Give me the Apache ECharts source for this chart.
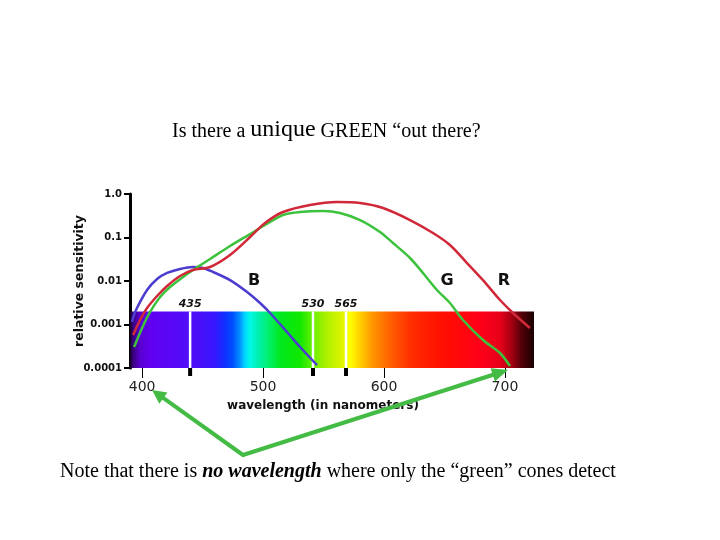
<!DOCTYPE html>
<html><head><meta charset="utf-8">
<script src="https://cdn.jsdelivr.net/npm/echarts@6/dist/echarts.min.js"></script>
<style>html,body{margin:0;padding:0;background:#fff}#c{width:720px;height:540px}</style>
</head><body><div id="c"></div>
<script>
// ---- data ----
const blueWl  = [391.7, 394.2, 404.1, 412.4, 420.7, 431.4, 442.1, 450.4, 458.7, 472.7, 486.8, 497.5, 505.8, 519.8, 530.6, 544.6];
const blueVal = [0.00114, 0.00194, 0.00621, 0.0111, 0.0153, 0.0189, 0.0210, 0.0199, 0.0161, 0.0105, 0.00558, 0.00312, 0.00184, 0.000673, 0.000304, 0.000117];

const greenWl  = [393.4, 400.0, 406.6, 414.9, 423.1, 433.9, 442.1, 456.2, 472.7, 489.3, 505.8, 516.5, 530.6, 549.6, 563.6, 580.2, 596.7, 607.4, 621.5, 632.2, 643.8, 654.5, 665.3, 681.8, 695.9, 704.1];
const greenVal = [0.000304, 0.000832, 0.00194, 0.00429, 0.00728, 0.0124, 0.0179, 0.0321, 0.0638, 0.120, 0.227, 0.329, 0.385, 0.406, 0.366, 0.252, 0.134, 0.0748, 0.0338, 0.0153, 0.00621, 0.00312, 0.00127, 0.000441, 0.000221, 0.000111];

const redWl  = [392.6, 398.3, 404.1, 412.4, 420.7, 431.4, 442.1, 456.2, 472.7, 489.3, 501.6, 516.5, 538.8, 561.1, 580.2, 599.2, 621.5, 640.5, 654.5, 668.6, 681.8, 695.9, 706.6, 720.6];
const redVal = [0.000574, 0.00127, 0.00239, 0.00452, 0.00767, 0.0130, 0.0179, 0.0210, 0.0396, 0.1026, 0.215, 0.385, 0.558, 0.655, 0.621, 0.476, 0.252, 0.127, 0.0673, 0.0259, 0.0105, 0.00366, 0.00184, 0.000832];

const xTicks = [400, 500, 600, 700];
const yTickLabels = ['0.0001', '0.001', '0.01', '0.1', '1.0'];
const markerPos = [439.7, 541.3, 568.6];
const markerLabels = ['435', '530', '565'];
const band = [390, 724, 0.0001, 0.002];   // x0, x1, y0, y1 of the spectrum strip
const coneLabels = ['B', 'G', 'R'];

// ---- styling ----
const X_MIN = 390, X_MAX = 724, Y_MIN = 0.0001, Y_MAX = 1;
const spectrumStops = [
  [0, '#1a0028'], [0.008, '#3a0080'], [0.025, '#5a00d0'], [0.05, '#6000f0'],
  [0.10, '#5a08f8'], [0.173, '#4a10f8'], [0.21, '#3818ff'], [0.235, '#1030ff'],
  [0.255, '#0050ff'], [0.272, '#0090ff'], [0.285, '#00d8ff'], [0.297, '#00f8e8'],
  [0.317, '#00f0b0'], [0.342, '#00f070'], [0.371, '#00e820'], [0.421, '#10e800'],
  [0.45, '#60f000'], [0.483, '#a8f000'], [0.52, '#d8f400'], [0.545, '#ffff00'],
  [0.569, '#ffd000'], [0.599, '#ff9800'], [0.644, '#ff6000'], [0.693, '#ff3000'],
  [0.767, '#ff1000'], [0.866, '#ff0018'], [0.916, '#e8001a'], [0.946, '#a00010'],
  [0.97, '#500008'], [1, '#180000']
];

const chart = echarts.init(document.getElementById('c'), null, {renderer: 'canvas'});

function lineSeries(wl, val, color) {
  return {
    type: 'line', data: wl.map((w, i) => [w, val[i]]), symbol: 'none', smooth: 0.3,
    lineStyle: {color: color, width: 2.5}, z: 5, silent: true, clip: false
  };
}

function arrow(tip, from, len, half) {
  const dx = tip[0] - from[0], dy = tip[1] - from[1];
  const L = Math.hypot(dx, dy), ux = dx / L, uy = dy / L;
  const bx = tip[0] - ux * len, by = tip[1] - uy * len;
  return {head: [[tip[0], tip[1]], [bx - uy * half, by + ux * half], [bx + uy * half, by - ux * half]], base: [bx + ux * 2, by + uy * 2]};
}
const vtx = [243, 455], tipL = [152, 390], tipR = [508, 370];
const aL = arrow(tipL, vtx, 14, 7), aR = arrow(tipR, vtx, 16, 7);
const arrowColor = '#44bb44';

chart.setOption({
  backgroundColor: '#fff',
  animation: false,
  grid: {left: 130, right: 186, top: 194, bottom: 172, containLabel: false},
  xAxis: {
    type: 'value', min: X_MIN, max: X_MAX,
    axisLine: {show: false},
    splitLine: {show: false},
    axisTick: {show: true, customValues: xTicks, length: 10, lineStyle: {color: '#000', width: 1}},
    axisLabel: {customValues: xTicks, fontSize: 14, fontFamily: 'DejaVu Sans', color: '#222', margin: 12},
    name: 'wavelength (in nanometers)', nameLocation: 'middle', nameGap: 32, nameMoveOverlap: false,
    nameTextStyle: {fontFamily: 'DejaVu Sans', fontWeight: 'bold', fontSize: 12, color: '#111', padding: [0, 18, 0, 0]}
  },
  yAxis: {
    type: 'log', logBase: 10, min: Y_MIN, max: Y_MAX,
    axisLine: {show: true, lineStyle: {color: '#000', width: 3}},
    axisTick: {show: true, length: 6, lineStyle: {color: '#000', width: 2}},
    splitLine: {show: false},
    minorTick: {show: false},
    axisLabel: {
      fontFamily: 'DejaVu Sans', fontWeight: 'bold', fontSize: 10, color: '#111', margin: 8,
      formatter: v => yTickLabels[Math.round(Math.log10(v)) + 4]
    },
    name: 'relative sensitivity', nameLocation: 'middle', nameGap: 44, nameRotate: 90, nameMoveOverlap: false,
    nameTextStyle: {fontFamily: 'DejaVu Sans', fontWeight: 'bold', fontSize: 12.5, color: '#111'}
  },
  series: [
    {
      type: 'custom', z: 1, silent: true, clip: false,
      data: [band], encode: {x: [0, 1], y: [2, 3]},
      renderItem: (params, api) => {
        const p0 = api.coord([api.value(0), api.value(3)]);
        const p1 = api.coord([api.value(1), api.value(2)]);
        return {
          type: 'rect', shape: {x: p0[0], y: p0[1], width: p1[0] - p0[0], height: p1[1] - p0[1]},
          style: {fill: new echarts.graphic.LinearGradient(0, 0, 1, 0, spectrumStops.map(s => ({offset: s[0], color: s[1]})))}
        };
      }
    },
    {
      type: 'custom', z: 3, silent: true, clip: false,
      data: markerPos.map((p, i) => [p, i]),
      encode: {x: 0},
      renderItem: (params, api) => {
        const x = api.value(0), i = api.value(1);
        const pb = api.coord([x, band[2]]);
        const pt = api.coord([x, band[3]]);
        return {
          type: 'group', children: [
            {type: 'line', shape: {x1: pb[0], y1: pb[1], x2: pt[0], y2: pt[1]}, style: {stroke: '#fff', lineWidth: 2.5}},
            {type: 'rect', shape: {x: pb[0] - 2, y: pb[1], width: 4, height: 8}, style: {fill: '#000'}},
            {type: 'text', style: {text: markerLabels[i], x: pt[0], y: pt[1] - 2, align: 'center', verticalAlign: 'bottom',
              font: 'italic bold 11px "DejaVu Sans"', fill: '#111'}}
          ]
        };
      }
    },
    lineSeries(blueWl, blueVal, '#4c3cd0'),
    lineSeries(greenWl, greenVal, '#3cc23c'),
    lineSeries(redWl, redVal, '#d02838')
  ],
  graphic: [
    {type: 'text', left: 172, top: 118, z: 10, style: {
      text: '{a|Is there a }{b|unique}{a| GREEN “out there?}',
      rich: {
        a: {fontSize: 20, fontFamily: 'Liberation Serif', fill: '#000', lineHeight: 24, verticalAlign: 'bottom'},
        b: {fontSize: 24, fontFamily: 'Liberation Serif', fill: '#000', lineHeight: 24, verticalAlign: 'bottom'}
      }}},
    {type: 'text', left: 60, top: 462, z: 10, style: {
      text: '{a|Note that there is }{b|no wavelength}{a| where only the “green” cones detect}',
      rich: {
        a: {fontSize: 20, fontFamily: 'Liberation Serif', fill: '#000', lineHeight: 24, verticalAlign: 'bottom'},
        b: {fontSize: 20, fontFamily: 'Liberation Serif', fontWeight: 'bold', fontStyle: 'italic', fill: '#000', lineHeight: 24, verticalAlign: 'bottom'}
      }}},
    {type: 'text', x: 254, y: 281, z: 10, style: {text: coneLabels[0], align: 'center', verticalAlign: 'middle', font: 'bold 16px "DejaVu Sans"', fill: '#111'}},
    {type: 'text', x: 447, y: 281, z: 10, style: {text: coneLabels[1], align: 'center', verticalAlign: 'middle', font: 'bold 16px "DejaVu Sans"', fill: '#111'}},
    {type: 'text', x: 504, y: 281, z: 10, style: {text: coneLabels[2], align: 'center', verticalAlign: 'middle', font: 'bold 16px "DejaVu Sans"', fill: '#111'}},
    {type: 'polyline', z: 10, shape: {points: [aL.base, vtx, aR.base]}, style: {stroke: arrowColor, lineWidth: 4, fill: null, lineJoin: 'round'}},
    {type: 'polygon', z: 10, shape: {points: aL.head}, style: {fill: arrowColor}},
    {type: 'polygon', z: 10, shape: {points: aR.head}, style: {fill: arrowColor}}
  ]
});
</script>
</body></html>
